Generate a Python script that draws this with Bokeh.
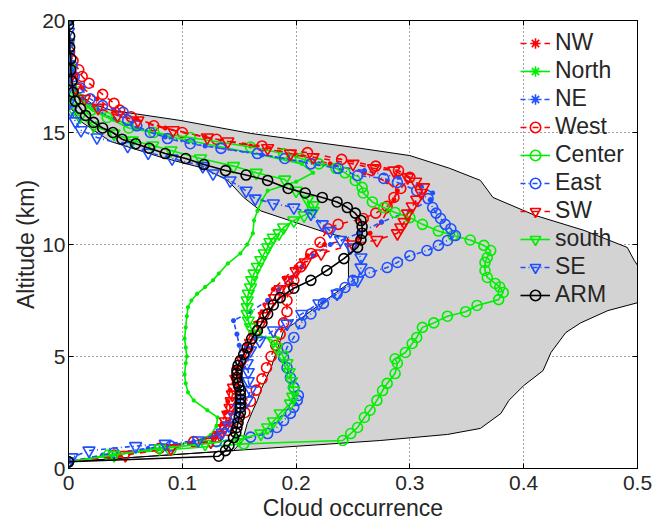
from bokeh.plotting import figure
from bokeh.models import Range1d, LinearAxis, FixedTicker
from bokeh.embed import file_html
from bokeh.resources import INLINE

# ---------------- data (altitude km, cloud occurrence) ----------------
x_ticks = [0, 0.1, 0.2, 0.3, 0.4, 0.5]
x_tick_labels = ["0", "0.1", "0.2", "0.3", "0.4", "0.5"]
y_ticks = [0, 5, 10, 15, 20]
y_tick_labels = ["0", "5", "10", "15", "20"]

env_max = [(20.0, 0.0), (17.5, 0.0), (16.8, 0.008), (16.3, 0.02), (16.0, 0.037), (15.54, 0.098),
           (14.96, 0.16), (14.29, 0.257), (13.97, 0.30), (13.4, 0.335), (12.86, 0.362), (12.1, 0.373),
           (11.3, 0.41), (10.63, 0.453), (9.87, 0.491), (9.3, 0.497), (8.7, 0.505), (8.0, 0.53),
           (7.4, 0.5), (7.05, 0.474), (6.5, 0.45), (6.07, 0.437), (5.18, 0.424), (4.37, 0.417),
           (3.7, 0.40), (3.04, 0.387), (2.46, 0.38), (1.79, 0.362), (1.52, 0.333), (1.25, 0.274),
           (0.8, 0.145), (0.3, 0.0)]
env_min = [(0.8, 0.145), (1.25, 0.153), (2.0, 0.157), (2.6, 0.162), (3.04, 0.166), (3.5, 0.169),
           (4.5, 0.178), (6.16, 0.189), (6.47, 0.198), (8.26, 0.246), (9.5, 0.246), (10.3, 0.245),
           (10.5, 0.228), (11.5, 0.169), (12.1, 0.154), (12.86, 0.14), (13.4, 0.119), (13.9, 0.081),
           (14.6, 0.037), (15.5, 0.0105), (16.1, 0.002), (17.0, 0.0), (20.0, 0.0)]

NW = [(0.3, 0.0), (0.6, 0.045), (0.9, 0.085), (1.2, 0.12), (1.5, 0.13), (2.0, 0.135), (2.5, 0.138),
      (3.0, 0.14), (3.5, 0.142), (4.0, 0.145), (4.5, 0.148), (5.0, 0.152), (5.5, 0.156), (6.0, 0.16),
      (6.5, 0.165), (7.0, 0.17), (7.5, 0.175), (8.0, 0.18), (8.5, 0.19), (9.0, 0.2), (9.5, 0.21),
      (10.0, 0.225), (10.3, 0.255), (10.5, 0.265), (11.0, 0.275), (11.5, 0.28), (12.0, 0.286),
      (12.4, 0.289), (12.8, 0.28), (13.2, 0.26), (13.6, 0.23), (14.0, 0.2), (14.4, 0.16), (14.8, 0.12),
      (15.2, 0.085), (15.6, 0.06), (16.0, 0.04), (16.5, 0.025), (17.0, 0.012), (17.5, 0.005),
      (18.0, 0.002), (19.0, 0.0), (20.0, 0.0)]

North = [(0.3, 0.0), (0.6, 0.04), (0.9, 0.08), (1.2, 0.11), (1.5, 0.125), (1.9, 0.13), (2.28, 0.131),
         (2.6, 0.122), (3.04, 0.11), (3.4, 0.105), (3.8, 0.103), (4.2, 0.102), (4.7, 0.103), (5.0, 0.104),
         (5.4, 0.103), (5.8, 0.102), (6.3, 0.103), (6.8, 0.104), (7.2, 0.105), (7.5, 0.108), (7.8, 0.113),
         (8.1, 0.12), (8.4, 0.127), (8.7, 0.132), (9.15, 0.14), (9.6, 0.151), (10.0, 0.157), (10.5, 0.162),
         (11.07, 0.163), (11.5, 0.166), (11.97, 0.17), (12.4, 0.175), (12.8, 0.2), (13.2, 0.215),
         (13.6, 0.205), (14.0, 0.17), (14.4, 0.13), (14.8, 0.09), (15.2, 0.06), (15.6, 0.04),
         (16.0, 0.022), (16.5, 0.01), (17.0, 0.004), (18.0, 0.0), (19.0, 0.0), (20.0, 0.0)]

NE = [(0.3, 0.0), (0.6, 0.03), (0.9, 0.07), (1.2, 0.11), (1.5, 0.13), (2.0, 0.14), (2.5, 0.145),
      (3.0, 0.148), (3.5, 0.15), (4.0, 0.152), (4.5, 0.153), (5.0, 0.152), (5.5, 0.15), (6.0, 0.148),
      (6.6, 0.145), (7.0, 0.16), (7.5, 0.175), (8.0, 0.185), (8.5, 0.195), (9.0, 0.205), (9.5, 0.215),
      (10.0, 0.23), (10.5, 0.255), (11.0, 0.275), (11.5, 0.3), (12.0, 0.318), (12.3, 0.32), (12.6, 0.31),
      (13.0, 0.29), (13.3, 0.26), (13.6, 0.22), (14.0, 0.17), (14.4, 0.12), (14.8, 0.085), (15.2, 0.06),
      (15.6, 0.04), (16.0, 0.025), (16.5, 0.012), (17.0, 0.005), (18.0, 0.0), (19.0, 0.0), (20.0, 0.0)]

West = [(0.3, 0.0), (0.6, 0.04), (0.9, 0.08), (1.2, 0.11), (1.4, 0.13), (1.7, 0.14), (2.0, 0.148),
        (2.5, 0.155), (3.0, 0.16), (3.5, 0.165), (4.0, 0.17), (4.5, 0.174), (5.0, 0.178), (5.5, 0.182),
        (6.0, 0.186), (6.5, 0.189), (7.0, 0.192), (7.5, 0.192), (8.0, 0.193), (8.4, 0.198), (9.0, 0.204),
        (9.6, 0.213), (10.1, 0.221), (10.7, 0.228), (10.9, 0.237), (11.16, 0.259), (11.4, 0.27),
        (11.7, 0.28), (12.1, 0.286), (12.5, 0.292), (13.0, 0.3), (13.3, 0.29), (13.5, 0.27), (13.8, 0.24),
        (14.1, 0.21), (14.4, 0.17), (14.7, 0.13), (15.0, 0.1), (15.3, 0.075), (15.7, 0.055), (16.0, 0.045),
        (16.3, 0.04), (16.7, 0.03), (17.2, 0.018), (17.5, 0.012), (17.8, 0.009), (18.2, 0.004),
        (18.6, 0.001), (19.0, 0.0), (20.0, 0.0)]

Center = [(0.3, 0.0), (0.6, 0.035), (0.85, 0.09), (1.1, 0.154), (1.25, 0.241), (1.56, 0.248),
          (1.83, 0.254), (2.28, 0.26), (2.6, 0.265), (3.04, 0.271), (3.48, 0.276), (3.8, 0.28),
          (4.24, 0.287), (4.7, 0.289), (4.9, 0.287), (5.18, 0.296), (5.58, 0.302), (5.85, 0.306),
          (6.3, 0.311), (6.5, 0.321), (6.8, 0.333), (7.0, 0.349), (7.28, 0.359), (7.54, 0.378),
          (7.86, 0.382), (8.1, 0.379), (8.26, 0.375), (8.53, 0.368), (8.84, 0.366), (9.2, 0.366),
          (9.42, 0.368), (9.73, 0.371), (9.96, 0.365), (10.2, 0.353), (10.4, 0.338), (10.6, 0.325),
          (10.9, 0.311), (11.2, 0.3), (11.43, 0.287), (11.65, 0.277), (11.9, 0.267), (12.3, 0.259),
          (12.55, 0.258), (12.86, 0.252), (13.2, 0.243), (13.4, 0.235), (13.6, 0.22), (13.84, 0.204),
          (14.06, 0.189), (14.35, 0.16), (14.78, 0.107), (15.0, 0.075), (15.2, 0.053), (15.67, 0.034),
          (16.0, 0.02), (16.5, 0.01), (17.0, 0.003), (18.0, 0.001), (19.0, 0.0), (20.0, 0.0)]

East = [(0.3, 0.0), (0.7, 0.04), (1.0, 0.09), (1.2, 0.13), (1.4, 0.16), (1.56, 0.175), (1.83, 0.183),
        (2.14, 0.189), (2.46, 0.195), (2.73, 0.198), (3.04, 0.201), (3.26, 0.202), (3.62, 0.198),
        (4.06, 0.195), (4.5, 0.192), (4.96, 0.189), (5.4, 0.192), (5.85, 0.198), (6.47, 0.204),
        (6.9, 0.213), (7.37, 0.224), (7.8, 0.236), (8.08, 0.243), (8.4, 0.25), (8.75, 0.265),
        (8.97, 0.28), (9.2, 0.289), (9.5, 0.3), (9.73, 0.315), (9.96, 0.325), (10.18, 0.333),
        (10.4, 0.34), (10.7, 0.336), (10.9, 0.331), (11.16, 0.327), (11.4, 0.323), (11.65, 0.32),
        (12.05, 0.316), (12.4, 0.306), (12.77, 0.289), (12.95, 0.277), (13.08, 0.254), (13.4, 0.237),
        (13.6, 0.213), (13.84, 0.19), (14.06, 0.166), (14.29, 0.134), (14.5, 0.107), (14.73, 0.087),
        (15.0, 0.072), (15.3, 0.06), (15.54, 0.052), (15.9, 0.048), (16.2, 0.03), (16.5, 0.019),
        (17.0, 0.01), (17.5, 0.005), (18.0, 0.003), (19.0, 0.0), (20.0, 0.0)]

SW = [(0.3, 0.0), (0.6, 0.05), (0.9, 0.09), (1.2, 0.125), (1.5, 0.133), (1.8, 0.137), (2.1, 0.138),
      (2.4, 0.14), (2.7, 0.142), (3.0, 0.143), (3.3, 0.144), (3.6, 0.145), (4.0, 0.147), (4.4, 0.15),
      (4.8, 0.153), (5.2, 0.157), (5.6, 0.16), (6.0, 0.164), (6.4, 0.168), (6.8, 0.172), (7.2, 0.176),
      (7.6, 0.181), (8.0, 0.186), (8.4, 0.193), (8.8, 0.2), (9.2, 0.208), (9.6, 0.222), (10.0, 0.25),
      (10.2, 0.271), (10.5, 0.289), (10.76, 0.292), (11.0, 0.295), (11.38, 0.298), (11.7, 0.302),
      (12.0, 0.306), (12.3, 0.31), (12.55, 0.312), (12.8, 0.305), (13.0, 0.298), (13.3, 0.286),
      (13.4, 0.268), (13.6, 0.25), (13.9, 0.215), (14.06, 0.195), (14.3, 0.175), (14.6, 0.14),
      (14.78, 0.122), (15.1, 0.092), (15.54, 0.061), (15.76, 0.043), (16.1, 0.026), (16.5, 0.014),
      (17.0, 0.006), (17.5, 0.002), (18.0, 0.0), (19.0, 0.0), (20.0, 0.0)]

south = [(0.3, 0.0), (0.6, 0.04), (0.9, 0.08), (1.1, 0.12), (1.3, 0.15), (1.56, 0.169), (1.83, 0.175),
         (2.1, 0.18), (2.46, 0.186), (2.9, 0.195), (3.2, 0.197), (3.48, 0.198), (3.9, 0.196), (4.3, 0.194),
         (4.7, 0.192), (5.05, 0.188), (5.4, 0.183), (5.7, 0.18), (6.0, 0.165), (6.3, 0.16), (6.6, 0.158),
         (6.9, 0.157), (7.2, 0.157), (7.5, 0.157), (7.8, 0.158), (8.08, 0.16), (8.4, 0.161), (8.7, 0.163),
         (9.0, 0.166), (9.3, 0.169), (9.6, 0.172), (9.87, 0.175), (10.1, 0.177), (10.3, 0.18), (10.5, 0.185),
         (10.76, 0.189), (11.07, 0.198), (11.3, 0.207), (11.5, 0.215), (11.75, 0.215), (12.0, 0.21),
         (12.4, 0.2), (12.9, 0.19), (13.2, 0.165), (13.5, 0.145), (13.84, 0.116), (14.2, 0.09),
         (14.42, 0.074), (14.64, 0.056), (14.95, 0.04), (15.3, 0.022), (15.7, 0.01), (16.1, 0.003),
         (16.5, 0.0), (17.0, 0.0), (18.0, 0.0), (19.0, 0.0), (20.0, 0.0)]

SE = [(0.3, 0.0), (0.5, 0.003), (0.8, 0.018), (1.0, 0.059), (1.1, 0.085), (1.25, 0.114), (1.6, 0.135),
      (1.92, 0.141), (2.3, 0.146), (2.7, 0.15), (3.04, 0.157), (3.5, 0.16), (3.9, 0.158), (4.3, 0.158),
      (4.7, 0.157), (5.27, 0.16), (5.7, 0.168), (6.16, 0.18), (6.47, 0.192), (6.9, 0.205), (7.37, 0.22),
      (7.8, 0.236), (8.4, 0.254), (8.97, 0.257), (9.42, 0.257), (9.87, 0.248), (10.2, 0.239), (10.6, 0.23),
      (10.9, 0.223), (11.38, 0.213), (11.65, 0.198), (11.83, 0.18), (12.05, 0.164), (12.4, 0.156),
      (12.86, 0.142), (13.17, 0.127), (13.5, 0.118), (13.84, 0.091), (14.1, 0.07), (14.4, 0.052),
      (14.78, 0.025), (15.1, 0.011), (15.5, 0.006), (16.0, 0.002), (16.3, 0.0), (17.0, 0.0), (17.5, 0.0),
      (18.0, 0.0), (18.5, 0.0), (19.0, 0.0), (19.5, 0.0), (20.0, 0.0)]

ARM = [(0.3, 0.0), (0.55, 0.132), (0.8, 0.138), (1.03, 0.141), (1.38, 0.145), (1.6, 0.147), (1.83, 0.148),
       (2.05, 0.149), (2.3, 0.150), (2.5, 0.151), (2.72, 0.151), (2.9, 0.151), (3.1, 0.151), (3.3, 0.151),
       (3.48, 0.151), (3.65, 0.150), (3.8, 0.149), (4.06, 0.148), (4.25, 0.148), (4.4, 0.148),
       (4.6, 0.149), (4.82, 0.151), (5.1, 0.154), (5.4, 0.157), (5.8, 0.161), (6.16, 0.166), (6.5, 0.170),
       (6.9, 0.175), (7.3, 0.180), (7.63, 0.186), (8.05, 0.198), (8.4, 0.213), (8.84, 0.227), (9.37, 0.242),
       (9.87, 0.254), (10.2, 0.257), (10.5, 0.258), (10.8, 0.258), (11.07, 0.257), (11.4, 0.252),
       (11.65, 0.245), (11.9, 0.236), (12.1, 0.223), (12.3, 0.208), (12.5, 0.193), (12.86, 0.175),
       (13.1, 0.156), (13.3, 0.138), (13.57, 0.119), (13.84, 0.103), (14.06, 0.085), (14.3, 0.071),
       (14.5, 0.059), (14.7, 0.047), (15.0, 0.039), (15.2, 0.030), (15.45, 0.022), (15.76, 0.015),
       (16.07, 0.0105), (16.4, 0.006), (16.8, 0.004), (17.3, 0.003), (17.8, 0.002), (18.3, 0.002),
       (18.8, 0.001), (19.3, 0.001), (19.8, 0.0), (20.0, 0.0)]

RED = "#ff0000"
GREEN = "#00ee00"
BLUE = "#1f4fff"
BLACK = "#000000"

series = [
    ("NW", NW, RED, "dashed", "asterisk", 5),
    ("North", North, GREEN, "solid", "asterisk", 4),
    ("NE", NE, BLUE, "5 3 1 3", "asterisk", 5),
    ("West", West, RED, "dashed", "circle", 10),
    ("Center", Center, GREEN, "solid", "circle", 10),
    ("East", East, BLUE, "5 3 1 3", "circle", 10),
    ("SW", SW, RED, "dashed", "inverted_triangle", 12),
    ("south", south, GREEN, "solid", "inverted_triangle", 12),
    ("SE", SE, BLUE, "5 3 1 3", "inverted_triangle", 12),
    ("ARM", ARM, BLACK, "solid", "circle", 10),
]

FONT = "Liberation Sans"
TXT = "#262626"

p = figure(frame_width=569, frame_height=448,
           min_border_left=68, min_border_right=18, min_border_top=20, min_border_bottom=52,
           x_range=Range1d(0, 0.5), y_range=Range1d(0, 20),
           output_backend="svg", toolbar_location=None)

p.outline_line_color = "black"
p.outline_line_width = 1
p.background_fill_color = "white"

# envelope
env_x = [v for _, v in env_max] + [v for _, v in env_min]
env_y = [a for a, _ in env_max] + [a for a, _ in env_min]
p.patch(env_x, env_y, fill_color="#d3d3d3", line_color="black", line_width=1)

for name, pts, col, dash, mk, sz in series:
    xs = [v for _, v in pts]
    ys = [a for a, _ in pts]
    p.line(xs, ys, line_color=col, line_width=1.6, line_dash=dash, legend_label=name)
    p.scatter(xs, ys, marker=mk, size=sz, line_color=col, fill_color=None,
              line_width=1.6, legend_label=name)

# axes
xt = FixedTicker(ticks=x_ticks)
yt = FixedTicker(ticks=y_ticks)
p.xaxis.ticker = xt
p.yaxis.ticker = yt
p.xaxis.major_label_overrides = {t: l for t, l in zip(x_ticks, x_tick_labels)}
p.yaxis.major_label_overrides = {t: l for t, l in zip(y_ticks, y_tick_labels)}
p.xaxis.axis_label = "Cloud occurrence"
p.yaxis.axis_label = "Altitude (km)"
for ax in (p.xaxis[0], p.yaxis[0]):
    ax.major_tick_in = 5
    ax.major_tick_out = 0
    ax.minor_tick_in = 0
    ax.minor_tick_out = 0
    ax.axis_line_color = "black"
    ax.major_tick_line_color = "black"
    ax.major_label_text_font = FONT
    ax.major_label_text_font_size = "21px"
    ax.major_label_text_color = TXT
    ax.axis_label_text_font = FONT
    ax.axis_label_text_font_size = "23px"
    ax.axis_label_text_font_style = "normal"
    ax.axis_label_text_color = TXT
p.xaxis.major_label_standoff = 7
p.xaxis.axis_label_standoff = 2
p.yaxis.major_label_standoff = 3
p.yaxis.axis_label_standoff = 0

for loc, tk in (("right", yt), ("above", xt)):
    ax = LinearAxis(ticker=tk)
    ax.major_tick_in = 5
    ax.major_tick_out = 0
    ax.minor_tick_in = 0
    ax.minor_tick_out = 0
    ax.major_label_text_font_size = "1px"
    ax.major_label_text_color = None
    ax.major_label_standoff = 0
    p.add_layout(ax, loc)

p.xgrid.ticker = xt
p.ygrid.ticker = yt
for g in (p.xgrid[0], p.ygrid[0]):
    g.grid_line_color = "#444444"
    g.grid_line_dash = "1 3"
    g.grid_line_width = 1

lg = p.legend[0]
lg.location = (447, 155)
lg.background_fill_alpha = 0
lg.border_line_alpha = 0
lg.label_text_font = FONT
lg.label_text_font_size = "23px"
lg.label_text_color = TXT
lg.glyph_width = 30
lg.glyph_height = 26
lg.label_height = 26
lg.spacing = 1
lg.padding = 5
lg.margin = 0
lg.label_standoff = 5

open("out.html", "w").write(file_html(p, INLINE))
